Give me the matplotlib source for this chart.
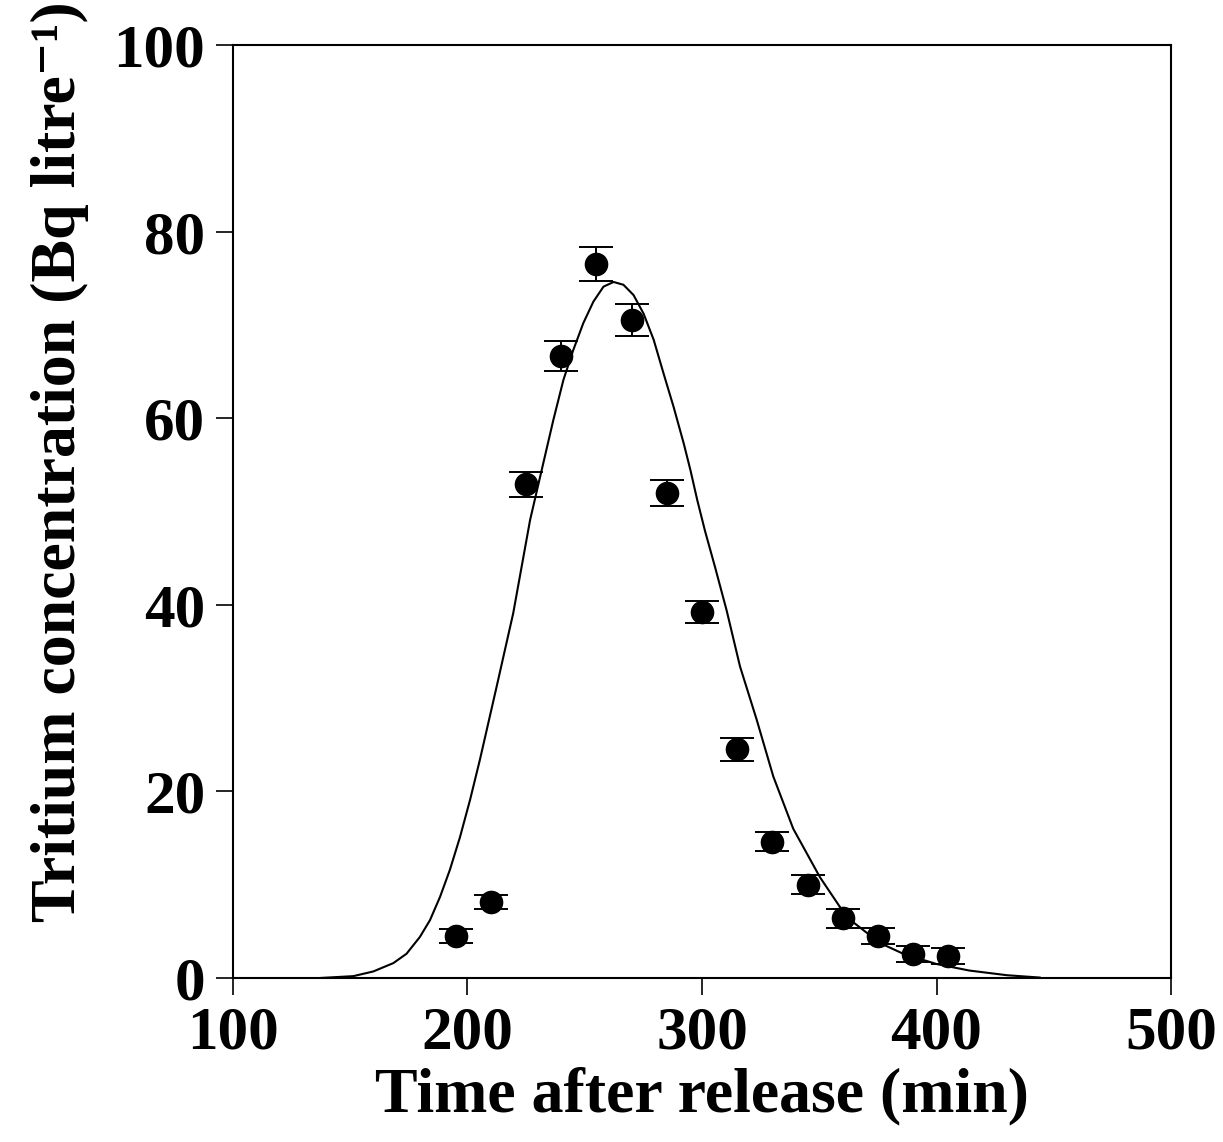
import matplotlib
matplotlib.use("Agg")
import matplotlib.pyplot as plt

# measured tritium concentrations
time_obs = [195, 210, 225, 240, 255, 270, 285, 300, 315, 330, 345, 360, 375, 390, 405]
conc_obs = [4.5, 8.1, 52.9, 66.7, 76.5, 70.5, 52.0, 39.2, 24.5, 14.6, 10.0, 6.4, 4.5, 2.6, 2.4]
conc_err = [0.75, 0.75, 1.35, 1.6, 1.8, 1.7, 1.4, 1.2, 1.2, 1.0, 1.0, 1.0, 0.9, 0.85, 0.85]

# model curve
time_fit = [137, 151.3, 159.8, 168.4, 174, 179.7, 184, 188.3, 192.5, 196.8,
            201.1, 205.3, 212.4, 219.5, 226.7, 231.6, 236.6, 240.9, 245.1, 249.4,
            253.7, 258, 262.3, 266.5, 270.8, 275.1, 279.4, 283.6, 287.9, 292.2,
            295.1, 298.0, 301.3, 305.5, 310.5, 316.2, 323.3, 330.4, 338.9, 350.3,
            361.8, 375.9, 385.8, 400, 414, 430, 444]
conc_fit = [0.0, 0.2, 0.7, 1.6, 2.6, 4.4, 6.2, 8.7, 11.6, 15.1,
            19.1, 23.4, 31.2, 39.1, 49.1, 54.4, 59.8, 64.1, 67.3, 70.2,
            72.5, 74.1, 74.6, 74.3, 73.2, 71.2, 68.4, 64.8, 61.2, 57.3,
            54.4, 51.2, 47.9, 44.1, 39.4, 33.4, 27.7, 21.6, 16.0, 10.8,
            6.5, 3.75, 2.6, 1.5, 0.8, 0.3, 0.05]

plt.rcParams['font.family'] = ['Liberation Serif', 'DejaVu Serif']
plt.rcParams['font.weight'] = 'bold'

fig = plt.figure(figsize=(12.23, 11.42), dpi=100)
ax = fig.add_axes([0.1905, 0.1436, 0.767, 0.817])

ax.plot(time_fit, conc_fit, color='black', lw=1.5)
ax.errorbar(time_obs, conc_obs, yerr=conc_err, fmt='o', color='black',
            markersize=16, capsize=12, elinewidth=1.4, capthick=1.4)

ax.set_xlim(100, 500)
ax.set_ylim(0, 100)
ax.set_xticks([100, 200, 300, 400, 500])
ax.set_yticks([0, 20, 40, 60, 80, 100])
ax.tick_params(direction='out', length=12, width=1.2, labelsize=44, pad=8)
for s in ax.spines.values():
    s.set_linewidth(1.5)

ax.set_xlabel('Time after release (min)', fontsize=46, fontweight='bold', labelpad=4)
ax.set_ylabel('Tritium concentration (Bq litre\u207b\u00b9)', fontsize=46,
              fontweight='bold')
ax.yaxis.set_label_coords(-0.154, 0.553)

fig.savefig('out.png', dpi=100)
